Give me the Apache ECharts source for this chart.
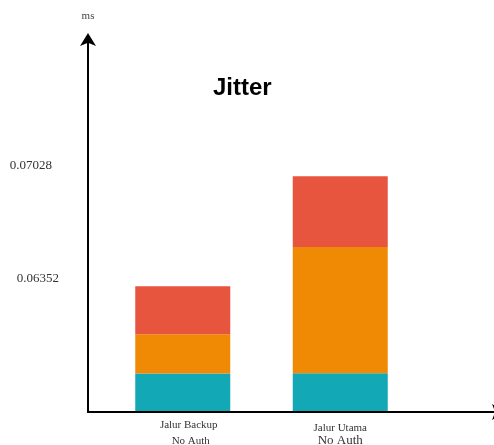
<!DOCTYPE html>
<html>
<head>
<meta charset="utf-8">
<script src="https://cdn.jsdelivr.net/npm/echarts@6/dist/echarts.min.js"></script>
<style>
html,body{margin:0;padding:0;background:#fff;}
#chart{width:494px;height:445px;}
</style>
</head>
<body>
<div id="chart"></div>
<script>
const categories = ['Jalur Backup', 'Jalur Utama'];
const subLabel = 'No Auth';
const seriesBottom = [10.1, 10.2];
const seriesMiddle = [10.6, 34.0];
const seriesTop = [12.9, 19.1];
const tickValues = [35.8, 66.3];
const tickLabels = ['0.06352', '0.07028'];

const serif = '"Liberation Serif", "DejaVu Serif", serif';
const axisLineStyle = {
  show: true,
  symbol: ['none', 'arrow'],
  symbolSize: [12, 13],
  symbolOffset: [0, 7],
  lineStyle: { color: '#000', width: 2 }
};

const chart = echarts.init(document.getElementById('chart'));
chart.setOption({
  animation: false,
  backgroundColor: '#fff',
  title: {
    text: 'Jitter',
    left: 213,
    top: 76,
    padding: 0,
    textStyle: { fontFamily: '"Liberation Sans", Arial, sans-serif', fontSize: 24, fontWeight: 'bold', color: '#000' }
  },
  grid: [
    { left: 88, right: -4, top: 40, bottom: 33, outerBoundsMode: 'none', containLabel: false },
    { left: 104, width: 315, top: 40, bottom: 34, outerBoundsMode: 'none', containLabel: false }
  ],
  xAxis: [
    {
      type: 'value', gridIndex: 0, min: 0, max: 1,
      axisLine: axisLineStyle,
      axisTick: { show: false }, axisLabel: { show: false }, splitLine: { show: false }
    },
    {
      type: 'category', gridIndex: 1, data: categories,
      axisLine: { show: false }, axisTick: { show: false }, splitLine: { show: false },
      axisLabel: {
        margin: 4,
        interval: 0,
        formatter: function (v, i) {
          return i === 0 ? '{a|' + v + '}\n{b|' + subLabel + '}' : '{c|' + v + '}\n{d|' + subLabel + '}';
        },
        rich: {
          a: { fontFamily: serif, fontSize: 11, color: '#333', lineHeight: 20, padding: [0, 0, 0, 12] },
          b: { fontFamily: serif, fontSize: 11, color: '#333', lineHeight: 12, padding: [0, 0, 0, 16] },
          c: { fontFamily: serif, fontSize: 11, color: '#333', lineHeight: 19, verticalAlign: 'bottom' },
          d: { fontFamily: serif, fontSize: 13, color: '#333', lineHeight: 14 }
        }
      }
    }
  ],
  yAxis: [
    {
      type: 'value', gridIndex: 0, min: 0, max: 100,
      name: 'ms', nameLocation: 'end', nameGap: 18,
      nameTextStyle: { fontFamily: serif, fontSize: 11, color: '#444' },
      axisLine: axisLineStyle,
      axisTick: { show: false }, splitLine: { show: false },
      axisLabel: {
        customValues: tickValues,
        margin: 29,
        formatter: function (v) {
          const i = tickValues.indexOf(v);
          const t = i >= 0 ? tickLabels[i] : '';
          return i === 1 ? '{p|' + t + '}' : '{q|' + t + '}';
        },
        rich: {
          p: { fontFamily: serif, fontSize: 13, color: '#333', padding: [0, 7, 0, 0] },
          q: { fontFamily: serif, fontSize: 13, color: '#333' }
        }
      }
    },
    { type: 'value', gridIndex: 1, min: 0, max: 100, show: false }
  ],
  series: [
    { name: 'Bottom', type: 'bar', stack: 'total', xAxisIndex: 1, yAxisIndex: 1, barWidth: 95, data: seriesBottom, itemStyle: { color: '#13a8b6' } },
    { name: 'Middle', type: 'bar', stack: 'total', xAxisIndex: 1, yAxisIndex: 1, barWidth: 95, data: seriesMiddle, itemStyle: { color: '#f08a05' } },
    { name: 'Top', type: 'bar', stack: 'total', xAxisIndex: 1, yAxisIndex: 1, barWidth: 95, data: seriesTop, itemStyle: { color: '#e8553f' } }
  ]
});
</script>
</body>
</html>
